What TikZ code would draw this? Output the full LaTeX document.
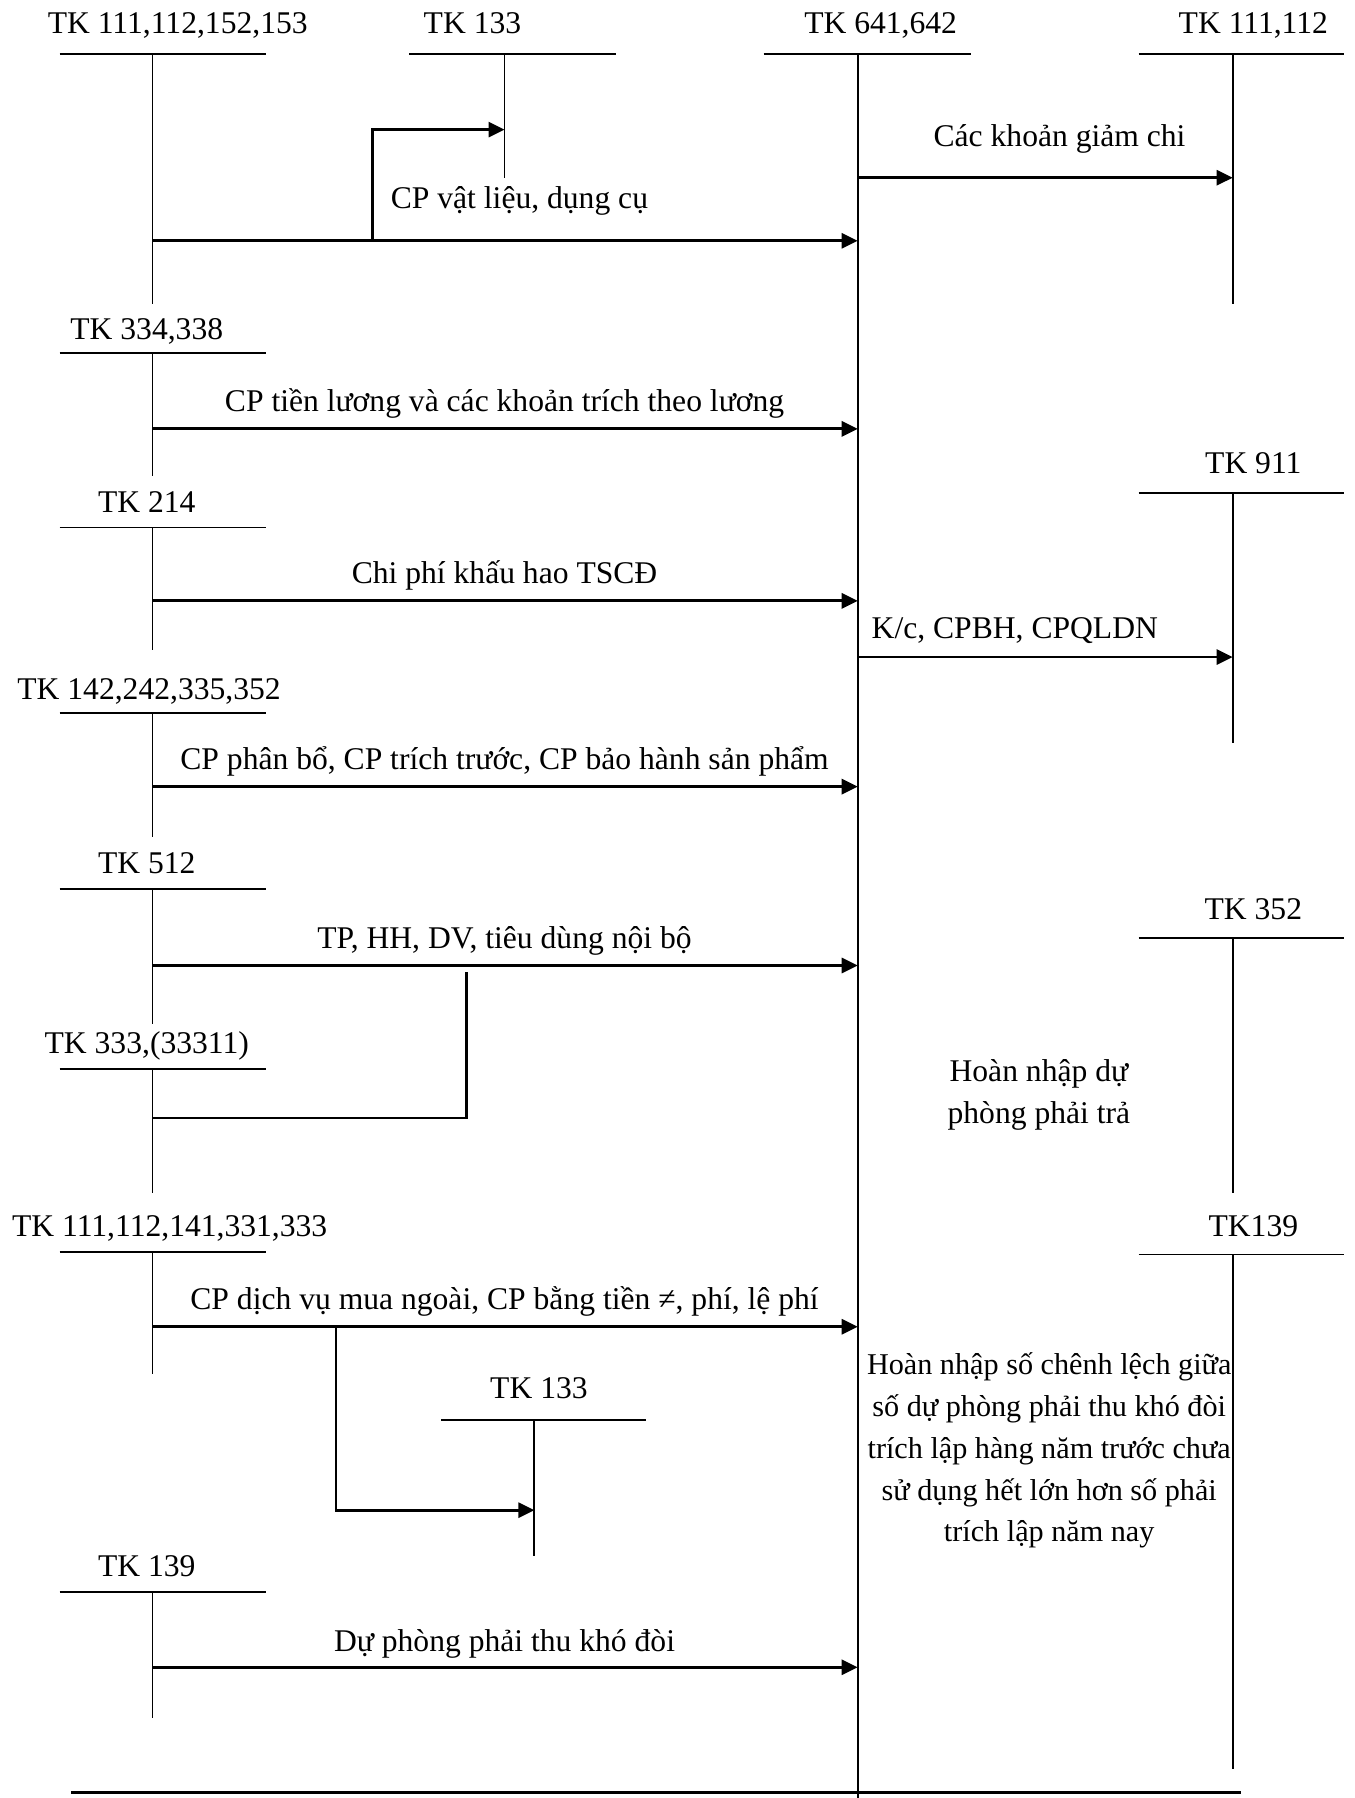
\documentclass[tikz,border=0pt]{standalone}
\usepackage{fontspec}
\setmainfont{Liberation Serif}
\usetikzlibrary{arrows.meta}
\begin{document}
\begin{tikzpicture}[x=0.5733pt,y=-0.5733pt,
  acct/.style={line width=0.9pt},
  flow/.style={line width=1.4pt,-{Triangle[length=8pt,width=7.5pt]}},
  link/.style={line width=1.4pt},
  lbl/.style={font=\fontsize{15.8}{19}\selectfont, inner sep=0pt, anchor=base},
  note/.style={font=\fontsize{15.8}{20.9}\selectfont, align=center, inner sep=0pt}
]
\useasboundingbox (0,0) rectangle (1181,1568);

% ---------- T-accounts: header line and vertical stem ----------
% main account TK 641,642
\node[lbl] (main) at (768,29) {TK 641,642};
\draw[acct] (666,47) -- (847,47);
\coordinate (mainTop) at (748,47);
\coordinate (mainBot) at (748,1568);
\draw[acct] (mainTop) -- (mainBot);

% left column
\node[lbl] (a1) at (155,29) {TK 111,112,152,153};
\draw[acct] (52,47) -- (232,47);
\draw[acct] (133,47) -- (133,265);

\node[lbl] (a2) at (128,296) {TK 334,338};
\draw[acct] (52,308) -- (232,308);
\draw[acct] (133,308) -- (133,415);

\node[lbl] (a3) at (128,447) {TK 214};
\draw[acct] (52,460) -- (232,460);
\draw[acct] (133,460) -- (133,567);

\node[lbl] (a4) at (130,610) {TK 142,242,335,352};
\draw[acct] (52,622) -- (232,622);
\draw[acct] (133,622) -- (133,730);

\node[lbl] (a5) at (128,762) {TK 512};
\draw[acct] (52,775) -- (232,775);
\draw[acct] (133,775) -- (133,893);

\node[lbl] (a6) at (128,919) {TK 333,(33311)};
\draw[acct] (52,932) -- (232,932);
\draw[acct] (133,932) -- (133,1040);

\node[lbl] (a7) at (148,1078) {TK 111,112,141,331,333};
\draw[acct] (52,1092) -- (232,1092);
\draw[acct] (133,1092) -- (133,1198);

\node[lbl] (a8) at (128,1375) {TK 139};
\draw[acct] (52,1388) -- (232,1388);
\draw[acct] (133,1388) -- (133,1498);

% VAT accounts
\node[lbl] (v1) at (412,29) {TK 133};
\draw[acct] (357,47) -- (537,47);
\draw[acct] (440,47) -- (440,155);

\node[lbl] (v2) at (470,1220) {TK 133};
\draw[acct] (385,1238) -- (563,1238);
\draw[acct] (466,1238) -- (466,1357);

% right column
\node[lbl] (r1) at (1093,29) {TK 111,112};
\draw[acct] (993,47) -- (1172,47);
\draw[acct] (1075,47) -- (1075,265);

\node[lbl] (r2) at (1093,413) {TK 911};
\draw[acct] (993,430) -- (1172,430);
\draw[acct] (1075,430) -- (1075,648);

\node[lbl] (r3) at (1093,802) {TK 352};
\draw[acct] (993,818) -- (1172,818);
\draw[acct] (1075,818) -- (1075,1040);

\node[lbl] (r4) at (1093,1078) {TK139};
\draw[acct] (993,1094) -- (1172,1094);
\draw[acct] (1075,1094) -- (1075,1543);

% ---------- entries ----------
% materials and tools
\coordinate (s1) at (133,210);
\coordinate (e1) at (748,210);
\coordinate (b1) at (325,210);
\coordinate (b1u) at (325,113);
\coordinate (t1) at (440,113);
\draw[flow] (s1) -- (e1);
\draw[flow] (b1) -- (b1u) -- (t1);
\node[lbl] (l1) at (453,182) {CP vật liệu, dụng cụ};

% reductions
\coordinate (s2) at (748,155);
\coordinate (e2) at (1075,155);
\draw[flow] (s2) -- (e2);
\node[lbl] (l2) at (924,128) {Các khoản giảm chi};

% wages
\coordinate (s3) at (133,374);
\coordinate (e3) at (748,374);
\draw[flow] (s3) -- (e3);
\node[lbl] (l3) at (440,359) {CP tiền lương và các khoản trích theo lương};

% depreciation
\coordinate (s4) at (133,524);
\coordinate (e4) at (748,524);
\draw[flow] (s4) -- (e4);
\node[lbl] (l4) at (440,509) {Chi phí khấu hao TSCĐ};

% closing entry
\coordinate (s5) at (748,573);
\coordinate (e5) at (1075,573);
\draw[flow] (s5) -- (e5);
\node[lbl] (l5) at (885,557) {K/c, CPBH, CPQLDN};

% allocated / accrued costs
\coordinate (s6) at (133,686);
\coordinate (e6) at (748,686);
\draw[flow] (s6) -- (e6);
\node[lbl] (l6) at (440,671) {CP phân bổ, CP trích trước, CP bảo hành sản phẩm};

% internal consumption
\coordinate (s7) at (133,842);
\coordinate (e7) at (748,842);
\draw[flow] (s7) -- (e7);
\node[lbl] (l7) at (440,827) {TP, HH, DV, tiêu dùng nội bộ};
\coordinate (k7) at (407,848);
\coordinate (k7d) at (407,975);
\coordinate (k7l) at (133,975);
\draw[link] (k7) -- (k7d) -- (k7l);

% provision reversal
\node[note] (n1) at (906,955) {Hoàn nhập dự\\phòng phải trả};

% outside services
\coordinate (s8) at (133,1157);
\coordinate (e8) at (748,1157);
\draw[flow] (s8) -- (e8);
\node[lbl] (l8) at (440,1142) {CP dịch vụ mua ngoài, CP bằng tiền ≠, phí, lệ phí};
\coordinate (b8) at (293,1157);
\coordinate (b8d) at (293,1317);
\coordinate (t8) at (466,1317);
\draw[flow] (b8) -- (b8d) -- (t8);

% doubtful debts
\node[note, font=\fontsize{15.1}{20.9}\selectfont] (n2) at (915,1265)
  {Hoàn nhập số chênh lệch giữa\\số dự phòng phải thu khó đòi\\trích lập hàng năm trước chưa\\sử dụng hết lớn hơn số phải\\trích lập năm nay};

\coordinate (s9) at (133,1454);
\coordinate (e9) at (748,1454);
\draw[flow] (s9) -- (e9);
\node[lbl] (l9) at (440,1440) {Dự phòng phải thu khó đòi};

% closing rule
\coordinate (f1) at (62,1563);
\coordinate (f2) at (1082,1563);
\draw[link] (f1) -- (f2);
\end{tikzpicture}
\end{document}
